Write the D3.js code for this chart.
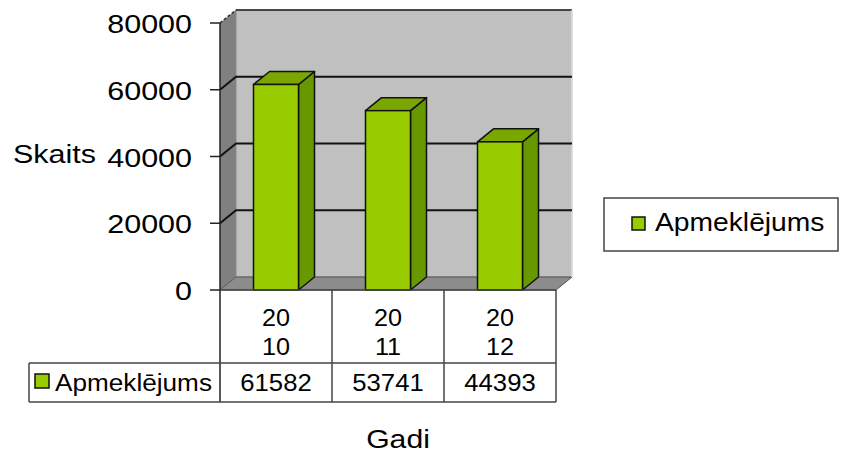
<!DOCTYPE html>
<html>
<head>
<meta charset="utf-8">
<script src="https://cdn.jsdelivr.net/npm/d3@7"></script>
<style>
  html, body { margin: 0; padding: 0; background: #fff; }
  svg { display: block; font-family: Arial, "Liberation Sans", sans-serif; }
</style>
</head>
<body>
<div id="chart"></div>
<script>
//          Chart data
var years = ["2010", "2011", "2012"];
var visits = [61582, 53741, 44393];
var yTicks = [0, 20000, 40000, 60000, 80000];
var seriesName = "Apmeklējums";
var yTitle = "Skaits";
var xTitle = "Gadi";

//          Chart settings
var w = 842, h = 454;
var plotLeft = 220, plotRight = 556;
var baseY = 290, topY = 23;
var depthX = 16, depthY = -13;
var barWidth = 45;
var tableLeft = 29, headerBottom = 363, tableBottom = 402;

var svg = d3.select("#chart").append("svg")
    .attr("width", w)
    .attr("height", h);

var y = d3.scaleLinear().domain([0, 80000]).range([baseY, topY]);
var x = d3.scaleBand().domain(years).range([plotLeft, plotRight]);

function pts(arr) {
    return arr.map(function(p) { return p[0] + "," + p[1]; }).join(" ");
}

// text with horizontal stretch, like the original picture
function addText(g, str, tx, ty, size, sx, anchor) {
    return g.append("text")
        .attr("transform", "translate(" + tx + "," + ty + ") scale(" + sx + ",1)")
        .attr("text-anchor", anchor || "start")
        .style("font-size", size + "px")
        .style("fill", "#000")
        .text(str);
}

var walls = svg.append("g");
var yMax = y(80000);

//      Left wall
walls.append("polygon")
    .attr("points", pts([[plotLeft, baseY], [plotLeft, yMax], [plotLeft + depthX, yMax + depthY], [plotLeft + depthX, baseY + depthY]]))
    .style("fill", "#808080");

//      Back wall
walls.append("polygon")
    .attr("points", pts([[plotLeft + depthX, yMax + depthY], [plotRight + depthX, yMax + depthY], [plotRight + depthX, baseY + depthY], [plotLeft + depthX, baseY + depthY]]))
    .style("fill", "#c0c0c0")
    .style("stroke", "#8a8a8a")
    .style("stroke-width", 1);

//      Floor
walls.append("polygon")
    .attr("points", pts([[plotLeft, baseY], [plotRight, baseY], [plotRight + depthX, baseY + depthY], [plotLeft + depthX, baseY + depthY]]))
    .style("fill", "#8c8c8c")
    .style("stroke", "#555")
    .style("stroke-width", 1);

//      Top edges
walls.append("line")
    .attr("x1", plotLeft + depthX).attr("x2", plotRight + depthX)
    .attr("y1", yMax + depthY).attr("y2", yMax + depthY)
    .style("stroke", "#222").style("stroke-width", 1.5);
walls.append("line")
    .attr("x1", plotLeft).attr("x2", plotLeft + depthX)
    .attr("y1", yMax).attr("y2", yMax + depthY)
    .style("stroke", "#333").style("stroke-width", 1.5)
    .style("stroke-dasharray", "3,2");
walls.append("line")
    .attr("x1", plotRight + depthX).attr("x2", plotRight + depthX)
    .attr("y1", yMax + depthY).attr("y2", baseY + depthY)
    .style("stroke", "#e8e8e8").style("stroke-width", 1.5);

//      Gridlines
var grid = yTicks.filter(function(d) { return d > 0 && d < 80000; });
walls.selectAll("path.grid").data(grid).enter().append("path")
    .attr("class", "grid")
    .attr("d", function(d) {
        return "M" + plotLeft + "," + y(d) + "L" + (plotLeft + depthX) + "," + (y(d) + depthY) +
               "L" + (plotRight + depthX) + "," + (y(d) + depthY);
    })
    .style("fill", "none")
    .style("stroke", "#111")
    .style("stroke-width", 2);

//      Bars
var bars = svg.append("g").selectAll("g").data(visits).enter().append("g");
function barX(i) { return x(years[i]) + (x.bandwidth() - barWidth) / 2; }

bars.append("polygon")   // side
    .attr("points", function(d, i) {
        var x1 = barX(i) + barWidth;
        return pts([[x1, baseY], [x1, y(d)], [x1 + depthX, y(d) + depthY], [x1 + depthX, baseY + depthY]]);
    })
    .style("fill", "#669900").style("stroke", "#111").style("stroke-width", 1.5)
    .style("stroke-linejoin", "round");

bars.append("polygon")   // top
    .attr("points", function(d, i) {
        var x0 = barX(i), x1 = x0 + barWidth;
        return pts([[x0, y(d)], [x1, y(d)], [x1 + depthX, y(d) + depthY], [x0 + depthX, y(d) + depthY]]);
    })
    .style("fill", "#7aa600").style("stroke", "#111").style("stroke-width", 1.5)
    .style("stroke-linejoin", "round");

bars.append("rect")      // front
    .attr("x", function(d, i) { return barX(i); })
    .attr("y", function(d) { return y(d); })
    .attr("width", barWidth)
    .attr("height", function(d) { return baseY - y(d); })
    .style("fill", "#99cc00").style("stroke", "#111").style("stroke-width", 1.5);

//      Y axis
var axisG = svg.append("g");
axisG.append("line")
    .attr("x1", plotLeft).attr("x2", plotLeft)
    .attr("y1", yMax).attr("y2", tableBottom)
    .style("stroke", "#222").style("stroke-width", 1.5);
axisG.selectAll("line.tick").data(yTicks).enter().append("line")
    .attr("class", "tick")
    .attr("x1", plotLeft - 10).attr("x2", plotLeft)
    .attr("y1", function(d) { return y(d); })
    .attr("y2", function(d) { return y(d); })
    .style("stroke", "#222").style("stroke-width", 1.5);
yTicks.forEach(function(d) {
    addText(axisG, d, 192, y(d) + 10, 25, 1.22, "end");
});
addText(axisG, yTitle, 13, 163, 25, 1.22, "start");

//      Data table
var table = svg.append("g");
var lineStyle = function(sel) { return sel.style("stroke", "#444").style("stroke-width", 1.5); };

lineStyle(table.append("line").attr("x1", plotLeft).attr("x2", plotRight).attr("y1", baseY).attr("y2", baseY));
lineStyle(table.append("line").attr("x1", tableLeft).attr("x2", plotRight).attr("y1", headerBottom).attr("y2", headerBottom));
lineStyle(table.append("line").attr("x1", tableLeft).attr("x2", plotRight).attr("y1", tableBottom).attr("y2", tableBottom));
lineStyle(table.append("line").attr("x1", tableLeft).attr("x2", tableLeft).attr("y1", headerBottom).attr("y2", tableBottom));
years.forEach(function(yr) {
    var xr = x(yr) + x.bandwidth();
    lineStyle(table.append("line").attr("x1", xr).attr("x2", xr).attr("y1", baseY).attr("y2", tableBottom));
});

years.forEach(function(yr, i) {
    var cx = x(yr) + x.bandwidth() / 2;
    addText(table, yr.slice(0, 2), cx, 326, 24, 1.05, "middle");
    addText(table, yr.slice(2), cx, 355, 24, 1.05, "middle");
    addText(table, visits[i], cx, 391, 24, 1.07, "middle");
});

table.append("rect")
    .attr("x", 35).attr("y", 374)
    .attr("width", 14).attr("height", 14)
    .style("fill", "#99cc00").style("stroke", "#111").style("stroke-width", 1.5);
addText(table, seriesName, 55, 391, 24, 1.09, "start");

//      X title
addText(svg, xTitle, 398, 448, 26, 1.16, "middle");

//      Legend
var legend = svg.append("g");
legend.append("rect")
    .attr("x", 604).attr("y", 198)
    .attr("width", 234).attr("height", 53)
    .style("fill", "#fff").style("stroke", "#444").style("stroke-width", 1.5);
legend.append("rect")
    .attr("x", 632).attr("y", 217)
    .attr("width", 13).attr("height", 13)
    .style("fill", "#99cc00").style("stroke", "#111").style("stroke-width", 1.5);
addText(legend, seriesName, 655, 231, 25, 1.13, "start");
</script>
</body>
</html>
